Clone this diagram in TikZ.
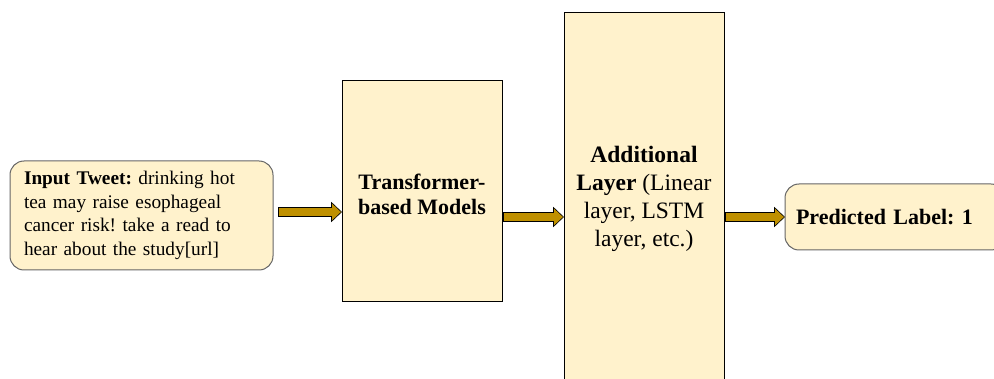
\documentclass[tikz,border=0pt]{standalone}
\usepackage{fontspec}
\setmainfont{Liberation Serif}
\usetikzlibrary{calc}

\definecolor{boxfill}{HTML}{FFF2CC}
\definecolor{arrowfill}{HTML}{BF9000}

\tikzset{
  stagebox/.style={draw=black, line width=1pt, fill=boxfill, align=center, inner sep=0pt},
  textbox/.style={draw=black!60, line width=1pt, fill=boxfill, rounded corners=14pt, align=left},
}

% block arrow from the first point to the x of the second, at the first point's height
\newcommand{\fatarrow}[2]{%
  \path[draw=black, line width=0.6pt, fill=arrowfill, line join=miter]
    let \p1=(#1), \p2=(#2) in
    (\x1,\y1+4.5pt) -- (\x2-10pt,\y1+4.5pt) -- (\x2-10pt,\y1+9.5pt) -- (\x2,\y1)
    -- (\x2-10pt,\y1-9.5pt) -- (\x2-10pt,\y1-4.5pt) -- (\x1,\y1-4.5pt) -- cycle;}

\begin{document}
\frenchspacing
\begin{tikzpicture}[x=1pt,y=-1pt]
\useasboundingbox (0,0) rectangle (994,379);

%Shape: Rounded Rect [id:input]
\node[textbox, minimum width=263, minimum height=109, text width=235, inner xsep=14, font=\fontsize{19.3}{23.5}\selectfont]
  (tweet) at (141.5,215.5)
  {\textbf{Input Tweet:} drinking hot\\tea may raise esophageal\\cancer risk! take a read to\\hear about the study[url]};

%Shape: Rectangle [id:transformer]
\node[stagebox, minimum width=160, minimum height=221, font=\fontsize{22}{24.5}\bfseries\selectfont]
  (trans) at (422,191.5) {\\[-3pt]Transformer-\\based Models};

%Shape: Rectangle [id:additional]
\node[stagebox, minimum width=160, minimum height=372, font=\fontsize{23.5}{28}\selectfont]
  (extra) at (644,199) {\textbf{Additional}\\\textbf{Layer} (Linear\\layer, LSTM\\layer, etc.)};

%Shape: Rounded Rect [id:output]
\node[textbox, minimum width=220, minimum height=66, text width=198, inner xsep=11, font=\fontsize{22}{25}\bfseries\selectfont]
  (label) at (895,217) {Predicted Label: 1};

% arrows between the stages
\coordinate (a1) at ([xshift=5]tweet.east);
\fatarrow{$(a1)+(0,-3.5)$}{trans.west}
\coordinate (a2) at ([xshift=1]trans.east |- label.west);
\fatarrow{a2}{extra.west}
\coordinate (a3) at ([xshift=1]extra.east |- label.west);
\fatarrow{a3}{label.west}
\end{tikzpicture}
\end{document}
